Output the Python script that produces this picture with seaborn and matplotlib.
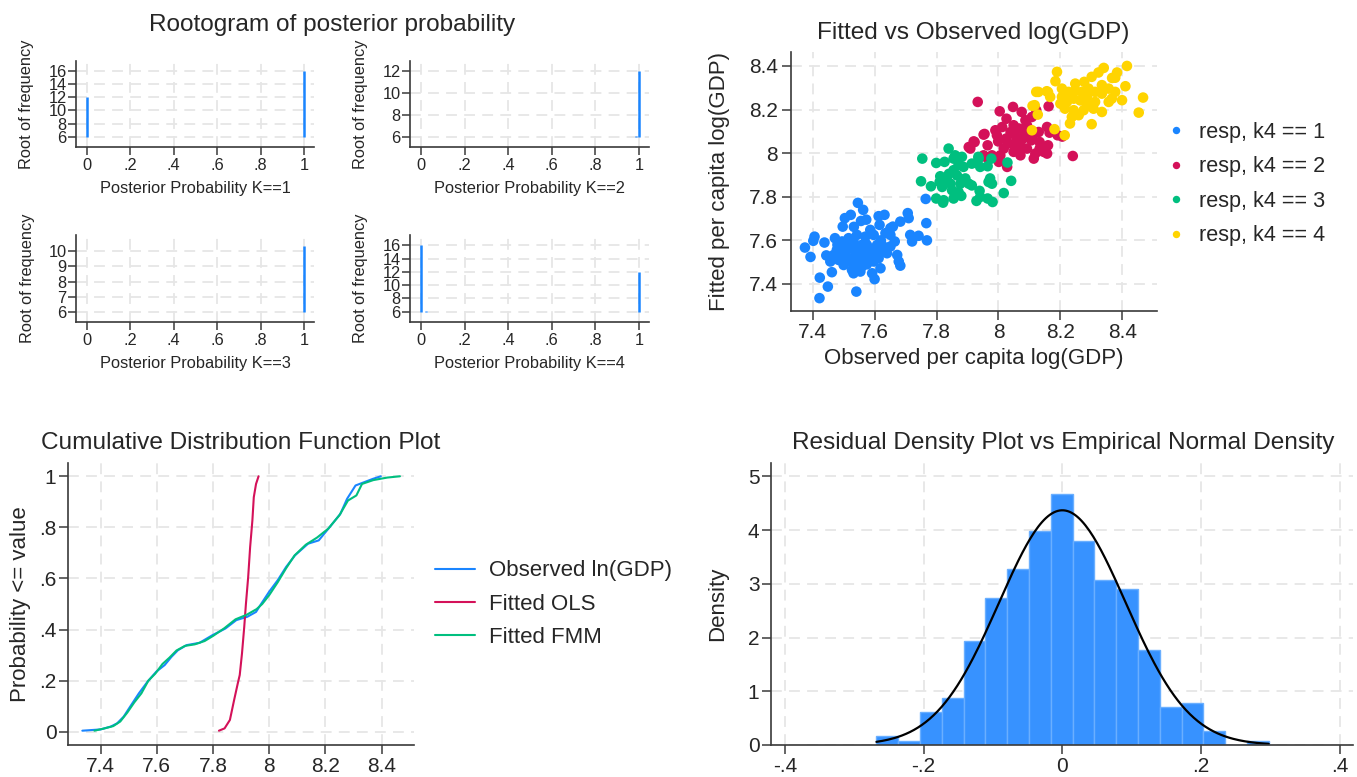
import numpy as np
import pandas as pd
import matplotlib
matplotlib.use("Agg")
import matplotlib.pyplot as plt
import seaborn as sns

# Stata stcolor palette
BLUE, RED, GREEN, YELLOW = "#1a85ff", "#d41159", "#00bf7f", "#ffd400"
GRID = "#e6e6e6"
AXC = "#3a3a3a"

# ---- rootogram spikes (base at 6) ----
root_base = 6
root_k1_x, root_k1_top = [0, 1], [12, 16]
root_k2_x, root_k2_top = [0.985, 1], [6.08, 12]
root_k3_x, root_k3_top = [1], [10.35]
root_k4_x, root_k4_top = [0, 0.025, 1], [16, 6.08, 12]
prob_ticks = [0, .2, .4, .6, .8, 1]
prob_labels = ["0", ".2", ".4", ".6", ".8", "1"]

# ---- fitted vs observed scatter, one pair of lists per class ----
blue_x = [7.546, 7.563, 7.765, 7.504, 7.523, 7.497, 7.533, 7.556, 7.573, 7.613,
          7.632, 7.616, 7.651, 7.659, 7.683, 7.707, 7.710, 7.767, 7.715, 7.742,
          7.769, 7.721, 7.406, 7.402, 7.375, 7.393, 7.438, 7.472, 7.444, 7.423,
          7.449, 7.422, 7.541, 7.462, 7.489, 7.511, 7.532, 7.484, 7.468, 7.500,
          7.527, 7.554, 7.565, 7.586, 7.592, 7.600, 7.619, 7.629, 7.651, 7.665,
          7.673, 7.678, 7.683, 7.554, 7.575, 7.597, 7.586, 7.570, 7.543, 7.516,
          7.608, 7.624, 7.500, 7.516, 7.538, 7.554, 7.581, 7.597, 7.613, 7.478,
          7.457, 7.543, 7.532, 7.559, 7.640, 7.651, 7.635, 7.495, 7.527, 7.570,
          7.515, 7.545, 7.570, 7.525, 7.560, 7.590, 7.480, 7.610, 7.535, 7.575,
          7.505, 7.620]
blue_y = [7.772, 7.740, 7.790, 7.702, 7.717, 7.663, 7.662, 7.689, 7.695, 7.711,
          7.717, 7.671, 7.656, 7.663, 7.686, 7.725, 7.702, 7.679, 7.625, 7.621,
          7.600, 7.595, 7.617, 7.598, 7.567, 7.524, 7.590, 7.610, 7.531, 7.429,
          7.388, 7.335, 7.365, 7.454, 7.564, 7.579, 7.595, 7.510, 7.533, 7.487,
          7.464, 7.457, 7.503, 7.526, 7.449, 7.422, 7.472, 7.549, 7.572, 7.595,
          7.533, 7.503, 7.484, 7.564, 7.579, 7.625, 7.648, 7.617, 7.625, 7.610,
          7.579, 7.579, 7.541, 7.518, 7.533, 7.510, 7.549, 7.503, 7.518, 7.556,
          7.503, 7.487, 7.449, 7.480, 7.541, 7.625, 7.633, 7.595, 7.564, 7.587,
          7.560, 7.545, 7.535, 7.500, 7.580, 7.560, 7.580, 7.545, 7.475, 7.490,
          7.530, 7.600]
green_x = [7.839, 7.754, 7.799, 7.826, 7.855, 7.882, 7.871, 7.855, 7.887, 7.914,
           7.935, 7.941, 7.965, 8.029, 7.812, 7.810, 7.750, 7.782, 7.818, 7.845,
           7.850, 7.877, 7.904, 7.914, 7.871, 7.880, 7.855, 7.823, 7.799, 7.939,
           7.941, 7.965, 7.973, 7.968, 7.979, 8.017, 8.041, 7.834, 7.893, 7.840,
           7.866, 7.936, 7.977, 7.981, 7.929, 7.860, 7.821]
green_y = [8.021, 7.975, 7.955, 7.960, 7.975, 7.983, 7.945, 7.922, 7.937, 7.952,
           7.983, 7.937, 7.940, 7.957, 7.894, 7.868, 7.871, 7.848, 7.845, 7.860,
           7.830, 7.860, 7.860, 7.852, 7.822, 7.804, 7.792, 7.784, 7.792, 7.827,
           7.799, 7.792, 7.884, 7.868, 7.860, 7.817, 7.873, 7.875, 7.884, 7.905,
           7.898, 7.975, 7.975, 7.776, 7.781, 7.990, 7.773]
red_x = [7.933, 8.004, 8.047, 8.075, 8.122, 8.162, 8.026, 8.049, 8.087, 8.108,
         7.990, 8.012, 8.039, 8.066, 8.103, 8.130, 8.157, 8.165, 7.955, 7.920,
         7.904, 7.965, 7.999, 8.025, 8.052, 8.079, 8.106, 8.133, 8.160, 8.191,
         8.206, 8.017, 8.049, 8.071, 8.092, 8.119, 8.146, 8.006, 7.979, 7.952,
         8.240, 8.028, 8.001, 7.958, 7.909, 7.923, 7.952, 8.114, 8.157, 8.057,
         8.084, 8.031, 8.074, 8.133, 8.112, 7.995, 8.092]
red_y = [8.235, 8.192, 8.212, 8.189, 8.197, 8.215, 8.158, 8.128, 8.151, 8.166,
         8.105, 8.120, 8.097, 8.113, 8.105, 8.097, 8.120, 8.094, 8.088, 8.054,
         8.028, 8.036, 8.054, 8.067, 8.044, 8.067, 8.059, 8.051, 8.036, 8.082,
         8.076, 8.021, 8.006, 7.990, 8.021, 7.998, 8.006, 7.990, 7.990, 7.990,
         7.987, 7.937, 7.960, 7.983, 8.021, 8.051, 8.085, 7.975, 7.998, 8.074,
         8.090, 8.044, 8.029, 8.021, 8.082, 8.082, 8.128]
yellow_x = [8.189, 8.415, 8.340, 8.323, 8.301, 8.383, 8.367, 8.410, 8.467, 8.453,
            8.184, 8.248, 8.277, 8.334, 8.129, 8.156, 8.167, 8.205, 8.226, 8.248,
            8.269, 8.291, 8.312, 8.334, 8.377, 8.399, 8.200, 8.221, 8.243, 8.264,
            8.286, 8.307, 8.334, 8.356, 8.366, 8.243, 8.237, 8.259, 8.301, 8.231,
            8.110, 8.127, 8.181, 8.108, 8.214, 8.205, 8.226, 8.286, 8.312, 8.356,
            8.215, 8.275, 8.377, 8.122, 8.160, 8.117]
yellow_y = [8.373, 8.400, 8.391, 8.370, 8.350, 8.370, 8.345, 8.307, 8.255, 8.186,
            8.330, 8.319, 8.327, 8.312, 8.281, 8.284, 8.258, 8.296, 8.281, 8.288,
            8.281, 8.296, 8.281, 8.273, 8.281, 8.243, 8.227, 8.235, 8.250, 8.242,
            8.220, 8.204, 8.189, 8.235, 8.250, 8.197, 8.166, 8.174, 8.133, 8.136,
            8.217, 8.177, 8.110, 8.105, 8.082, 8.258, 8.258, 8.258, 8.235, 8.296,
            8.204, 8.197, 8.346, 8.281, 8.280, 8.220]
class_labels = ["resp, k4 == 1", "resp, k4 == 2", "resp, k4 == 3", "resp, k4 == 4"]
gdp_ticks = [7.4, 7.6, 7.8, 8.0, 8.2, 8.4]
gdp_labels = ["7.4", "7.6", "7.8", "8", "8.2", "8.4"]

# ---- CDF curves: (value, probability) ----
obs_val = [7.335, 7.400, 7.436, 7.459, 7.482, 7.505, 7.536, 7.567, 7.598, 7.628,
           7.652, 7.675, 7.706, 7.752, 7.798, 7.844, 7.883, 7.922, 7.953, 7.968,
           7.999, 8.030, 8.060, 8.092, 8.138, 8.176, 8.215, 8.253, 8.277, 8.307,
           8.338, 8.369, 8.397]
obs_p = [0.004, 0.009, 0.020, 0.033, 0.059, 0.098, 0.150, 0.196, 0.235, 0.261,
         0.293, 0.319, 0.339, 0.348, 0.378, 0.404, 0.437, 0.450, 0.469, 0.495,
         0.547, 0.593, 0.645, 0.691, 0.736, 0.749, 0.801, 0.853, 0.912, 0.964,
         0.977, 0.990, 1.000]
ols_val = [7.821, 7.841, 7.860, 7.875, 7.888, 7.895, 7.903, 7.911, 7.917, 7.925,
           7.932, 7.940, 7.945, 7.953, 7.962]
ols_p = [0.004, 0.013, 0.046, 0.124, 0.189, 0.222, 0.306, 0.410, 0.500, 0.605,
         0.723, 0.827, 0.918, 0.970, 1.000]
fmm_val = [7.378, 7.410, 7.445, 7.470, 7.495, 7.520, 7.545, 7.570, 7.595, 7.620,
           7.645, 7.670, 7.700, 7.735, 7.770, 7.800, 7.840, 7.880, 7.920, 7.955,
           7.975, 8.000, 8.030, 8.060, 8.090, 8.130, 8.170, 8.210, 8.250, 8.280,
           8.310, 8.330, 8.370, 8.420, 8.465]
fmm_p = [0.004, 0.012, 0.022, 0.040, 0.075, 0.115, 0.150, 0.200, 0.228, 0.265,
         0.290, 0.318, 0.336, 0.342, 0.355, 0.375, 0.405, 0.440, 0.458, 0.480,
         0.500, 0.535, 0.585, 0.640, 0.690, 0.732, 0.760, 0.795, 0.848, 0.905,
         0.925, 0.970, 0.985, 0.995, 1.000]

# ---- residual histogram ----
resid_start, resid_width = -0.268, 0.03142
resid_density = [0.17, 0.07, 0.61, 0.88, 1.93, 2.73, 3.27, 3.98, 4.68, 3.79,
                 3.08, 2.91, 1.77, 0.71, 0.78, 0.26, 0.0, 0.07]
resid_mean, resid_sd = 0.0, 0.0913
resid_ticks = [-.4, -.2, 0, .2, .4]
resid_labels = ["-.4", "-.2", "0", ".2", ".4"]

sns.set_theme(style="white")
plt.rcParams["font.family"] = ["Liberation Sans", "DejaVu Sans"]
plt.rcParams["axes.unicode_minus"] = False

W, H = 1357, 777
fig = plt.figure(figsize=(W / 100, H / 100), dpi=100)

TICK_FS, LAB_FS, TITLE_FS = 15, 16, 17.6
SMALL_FS = 11.8


def box(l, t, r, b):
    return fig.add_axes([l / W, 1 - b / H, (r - l) / W, (b - t) / H])


def style(ax, xt, xl, yt, yl, fs, tick_len):
    ax.set_xticks(xt)
    ax.set_xticklabels(xl)
    ax.set_yticks(yt)
    ax.set_yticklabels(yl)
    ax.grid(True, color=GRID, linestyle=(0, (6, 4)), linewidth=1.3)
    ax.set_axisbelow(True)
    for s in ["top", "right"]:
        ax.spines[s].set_visible(False)
    for s in ["left", "bottom"]:
        ax.spines[s].set_color(AXC)
        ax.spines[s].set_linewidth(1.2)
    ax.tick_params(direction="out", length=tick_len, width=1.1, color=AXC,
                   labelsize=fs, pad=2, left=True, bottom=True)


# rootogram panels
fig.text(332 / W, 1 - 25 / H, "Rootogram of posterior probability",
         ha="center", va="center", fontsize=TITLE_FS)
panels = [
    (root_k1_x, root_k1_top, (76, 61, 314, 147), (4.43, 17.5), range(6, 17, 2), "1"),
    (root_k2_x, root_k2_top, (410, 61, 649, 147), (5.06, 12.9), range(6, 13, 2), "2"),
    (root_k3_x, root_k3_top, (76, 235, 314, 322), (5.31, 11.09), range(6, 11), "3"),
    (root_k4_x, root_k4_top, (410, 235, 649, 322), (4.43, 17.57), range(6, 17, 2), "4"),
]
for xs, tops, pos, ylim, yt, k in panels:
    ax = box(*pos)
    ax.vlines(xs, root_base, tops, color=BLUE, linewidth=1.8)
    ax.set_xlim(-0.05, 1.046)
    ax.set_ylim(*ylim)
    style(ax, prob_ticks, prob_labels, list(yt), [str(v) for v in yt], SMALL_FS, 5.8)
    ax.tick_params(axis="y", pad=1)
    ax.set_xlabel(f"Posterior Probability K=={k}", fontsize=SMALL_FS, labelpad=6)
    ax.set_ylabel("Root of frequency", fontsize=SMALL_FS, labelpad=10)

# scatter
ax = box(791, 52, 1157, 311)
sc = pd.DataFrame({
    "obs": blue_x + red_x + green_x + yellow_x,
    "fit": blue_y + red_y + green_y + yellow_y,
    "cls": ([class_labels[0]] * len(blue_x) + [class_labels[1]] * len(red_x)
            + [class_labels[2]] * len(green_x) + [class_labels[3]] * len(yellow_x)),
})
sns.scatterplot(data=sc, x="obs", y="fit", hue="cls", hue_order=class_labels,
                palette=[BLUE, RED, GREEN, YELLOW], s=58, linewidth=0, ax=ax)
ax.set_xlim(7.330, 8.512)
ax.set_ylim(7.276, 8.464)
style(ax, gdp_ticks, gdp_labels, gdp_ticks, gdp_labels, TICK_FS, 6.3)
ax.tick_params(axis="y", pad=3)
ax.set_xlabel("Observed per capita log(GDP)", fontsize=LAB_FS, labelpad=5)
ax.set_ylabel("Fitted per capita log(GDP)", fontsize=LAB_FS, labelpad=14)
fig.text(973 / W, 1 - 33 / H, "Fitted vs Observed log(GDP)",
         ha="center", va="center", fontsize=TITLE_FS)
ax.legend(loc="center left", bbox_to_anchor=(0.993, 0.49), frameon=False,
          fontsize=15.6, labelspacing=0.62, handlelength=1.0, handletextpad=0.55,
          markerscale=0.7, borderpad=0)

# CDF
ax = box(68, 463, 414, 745)
sns.lineplot(x=obs_val, y=obs_p, color=BLUE, linewidth=1.5, sort=False,
             estimator=None, label="Observed ln(GDP)", ax=ax)
sns.lineplot(x=ols_val, y=ols_p, color=RED, linewidth=1.5, sort=False,
             estimator=None, label="Fitted OLS", ax=ax)
sns.lineplot(x=fmm_val, y=fmm_p, color=GREEN, linewidth=1.5, sort=False,
             estimator=None, label="Fitted FMM", ax=ax)
ax.set_xlim(7.284, 8.515)
ax.set_ylim(-0.052, 1.052)
style(ax, gdp_ticks, gdp_labels, prob_ticks, prob_labels, TICK_FS, 6.3)
ax.set_ylabel("Probability <= value", fontsize=LAB_FS, labelpad=6)
fig.text(241 / W, 1 - 443 / H, "Cumulative Distribution Function Plot",
         ha="center", va="center", fontsize=TITLE_FS)
ax.legend(loc="center left", bbox_to_anchor=(1.03, 0.50), frameon=False,
          fontsize=16, labelspacing=0.55, handlelength=1.8, handletextpad=0.6,
          borderpad=0)

# residual histogram with normal density
ax = box(771, 463, 1353, 745)
edges = [resid_start + i * resid_width for i in range(len(resid_density) + 1)]
centers = [(a + b) / 2 for a, b in zip(edges[:-1], edges[1:])]
sns.histplot(x=centers, weights=resid_density, bins=edges, stat="count",
             color="#3792ff", edgecolor="#6aafff", linewidth=1, alpha=1, ax=ax)
xs = np.linspace(edges[0], edges[-1], 200)
dens = np.exp(-0.5 * ((xs - resid_mean) / resid_sd) ** 2) / (resid_sd * np.sqrt(2 * np.pi))
sns.lineplot(x=xs, y=dens, color="black", linewidth=1.6, ax=ax)
ax.set_xlim(-0.420, 0.419)
ax.set_ylim(0, 5.25)
style(ax, resid_ticks, resid_labels, [0, 1, 2, 3, 4, 5],
      ["0", "1", "2", "3", "4", "5"], TICK_FS, 6.3)
ax.set_xlabel("")
ax.set_ylabel("Density", fontsize=LAB_FS, labelpad=14)
fig.text(1063 / W, 1 - 443 / H, "Residual Density Plot vs Empirical Normal Density",
         ha="center", va="center", fontsize=TITLE_FS)

fig.savefig("out.png", dpi=100)
